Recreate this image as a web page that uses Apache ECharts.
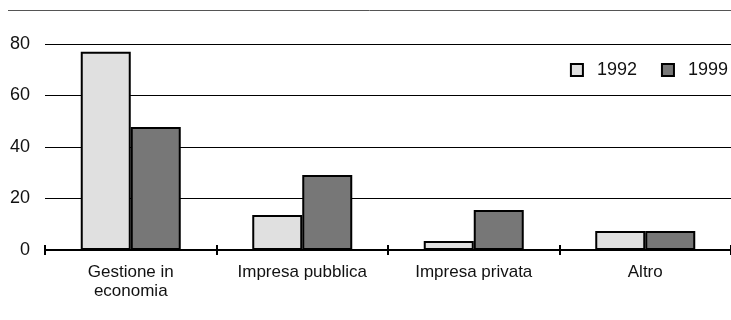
<!DOCTYPE html>
<html>
<head>
<meta charset="utf-8">
<script src="https://cdn.jsdelivr.net/npm/echarts@6/dist/echarts.min.js"></script>
<style>
  html, body { margin: 0; padding: 0; background: #fff; }
  #chart { width: 731px; height: 320px; }
</style>
</head>
<body>
<div id="chart"></div>
<script>
// Categories and values (percent)
const categories = ['Gestione in\neconomia', 'Impresa pubblica', 'Impresa privata', 'Altro'];
const values1992 = [77, 13.6, 3.5, 7.4];
const values1999 = [47.8, 29.1, 15.5, 7.4];
const yTicks = [0, 20, 40, 60, 80];

const FONT = "'Liberation Sans', Arial, sans-serif";

const chart = echarts.init(document.getElementById('chart'), null, { renderer: 'canvas' });

const barStyle = (fill) => ({ color: fill, borderColor: '#000', borderWidth: 2 });

chart.setOption({
  animation: false,
  backgroundColor: '#fff',
  textStyle: { fontFamily: FONT, color: '#111' },
  grid: { left: 45, right: 0, top: 44, bottom: 70, containLabel: false },
  legend: {
    right: 3, top: 56, padding: [5, 0, 5, 5],
    itemWidth: 12, itemHeight: 12, itemGap: 24,
    icon: 'rect',
    textStyle: { fontFamily: FONT, fontSize: 18, color: '#111', padding: [0, 0, 0, 9] },
    data: ['1992', '1999']
  },
  graphic: [
    // rule across the top of the figure
    { type: 'line', shape: { x1: 8, y1: 10.5, x2: 731, y2: 10.5 }, style: { stroke: '#555', lineWidth: 1 } }
  ],
  xAxis: [
    {
      type: 'category', data: categories, position: 'bottom',
      axisLine: { lineStyle: { color: '#000', width: 2 } },
      axisTick: { show: true, length: 5, lineStyle: { color: '#000', width: 2 } },
      axisLabel: { fontFamily: FONT, fontSize: 17, color: '#111', margin: 13, lineHeight: 19, interval: 0 }
    },
    {
      // upward half of the crossing tick marks
      type: 'category', data: categories, position: 'bottom',
      axisLine: { show: false },
      axisTick: { show: true, inside: true, length: 5, lineStyle: { color: '#000', width: 2 } },
      axisLabel: { show: false }, splitLine: { show: false }
    }
  ],
  yAxis: {
    type: 'value', min: 0, max: 80, interval: 20,
    axisLine: { show: false }, axisTick: { show: false },
    axisLabel: {
      fontFamily: FONT, fontSize: 18, color: '#111', margin: 15,
      formatter: (v) => (yTicks.includes(v) ? String(v) : '')
    },
    splitLine: { show: true, lineStyle: { color: '#000', width: 1 } }
  },
  series: [
    {
      name: '1992', type: 'bar', data: values1992, barWidth: 50, barGap: '0%',
      itemStyle: barStyle('#e0e0e0'), z: 3
    },
    {
      name: '1999', type: 'bar', data: values1999, barWidth: 50, barGap: '0%',
      itemStyle: barStyle('#777777'), z: 3
    }
  ]
});
</script>
</body>
</html>
